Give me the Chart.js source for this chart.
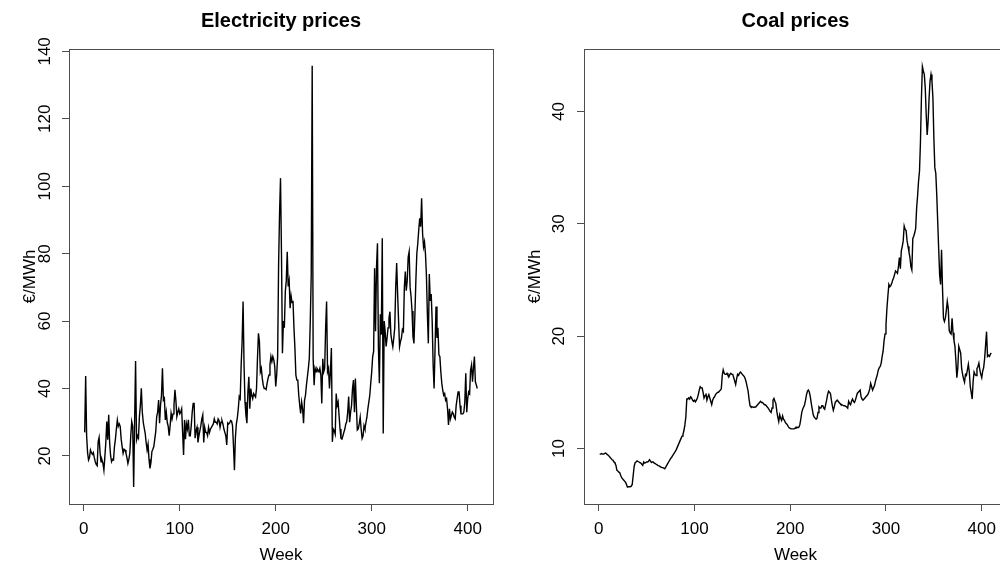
<!DOCTYPE html>
<html>
<head>
<meta charset="utf-8">
<script src="https://cdn.jsdelivr.net/npm/chart.js@4"></script>
<style>
  html, body { margin: 0; padding: 0; background: #fff; overflow: hidden; width: 1000px; height: 566px; }
  canvas { position: absolute; top: 0; }
  #elec { left: 0; }
  #coal { left: 500px; }
</style>
</head>
<body>
<canvas id="elec" width="500" height="566"></canvas>
<canvas id="coal" width="520" height="566"></canvas>
<script>
// Tick positions
const weekTicks = [0, 100, 200, 300, 400];
const elecTicks = [20, 40, 60, 80, 100, 120, 140];
const coalTicks = [10, 20, 30, 40];

// Weekly electricity prices, €/MWh (weeks 1..410)
const elecPrices = [
  27, 43.7, 26, 21, 18.8, 19.5, 21.8, 21, 20.5, 21,
  19.5, 18.3, 17.5, 17.1, 24.2, 25.5, 21, 18.3, 18.8, 17.8,
  15.8, 19.8, 24, 30.2, 24.8, 32.2, 23.8, 20, 18.3, 19,
  18.8, 22.8, 25, 28, 30.7, 28.8, 29.5, 28.8, 25, 22.8,
  20.8, 22, 21.8, 20.8, 19.5, 17.8, 19, 20.8, 26, 30.2,
  28.8, 10.8, 30, 48.2, 24.8, 26, 25.3, 31.7, 35, 40.1,
  33, 30, 28.3, 26.8, 24, 21.8, 23.5, 19, 16.3, 18,
  21.3, 22, 22.8, 25, 27.2, 31.7, 33, 36.6, 29.7, 35.1,
  38, 46, 36.6, 37.1, 30.7, 33, 30, 28.8, 26, 29,
  32.7, 31, 32.5, 35, 39.6, 36.5, 31.7, 33, 34, 32.5,
  33, 34, 27, 20.3, 30.7, 25, 29.5, 28, 30.7, 26,
  26, 29, 33, 35.6, 35.6, 25.3, 27.5, 28.5, 24, 26,
  27.5, 29, 31, 32.2, 24, 28.5, 27, 27, 26, 28.5,
  27, 28, 28.5, 29, 29.5, 31, 30, 30, 29.5, 31,
  30.5, 28.5, 30, 30.5, 29.5, 28, 27, 26, 23.3, 29.8,
  29.5, 29.8, 30.5, 30.3, 29, 23, 15.8, 25.5, 29.5, 31.3,
  34, 37.6, 37, 47, 54, 65.8, 47, 36, 32, 29.7,
  39, 43.5, 34, 40, 38, 37, 38.5, 38, 37.5, 40,
  49, 56.4, 54, 45, 46, 43, 41, 40, 40, 39.7,
  41.5, 43, 44, 47, 49.5, 48, 49.5, 48.5, 46.5, 40.6,
  44, 49.5, 76.7, 92, 102.4, 80, 50.5, 60, 58, 68.8,
  72, 80.6, 70.3, 72, 63.8, 67.5, 65.5, 66, 58, 52,
  44, 42.5, 42.5, 38, 35.1, 32.6, 36, 34, 29.7, 36.5,
  38, 41, 43.5, 46, 49, 60, 73.7, 135.7, 49, 41,
  46, 45, 46, 45.5, 45, 46, 44, 35.6, 48.8, 45,
  46, 58, 65.8, 45, 46, 40, 45, 52, 24.2, 28,
  27.5, 26.5, 38.5, 35, 36, 32, 28, 25.2, 25, 26,
  27, 28, 29.5, 30.2, 33, 37.6, 30, 33, 35, 40,
  42.5, 33, 43, 35, 27.7, 28, 29.5, 31.5, 28, 25.2,
  26, 29, 28, 30, 31.5, 34, 36, 38, 41.6, 45,
  49.5, 51, 75.7, 57, 76, 83.1, 52, 41.6, 62, 56,
  84.6, 26.7, 60, 57, 52.5, 55, 58, 61, 62.8, 56,
  54, 52.4, 55, 58, 70, 77.2, 68, 60, 52.4, 54,
  55, 57.5, 57, 70, 74.7, 69, 72, 79, 80.6, 70,
  67.3, 63, 55.4, 53.4, 62, 72, 80, 83.1, 87, 90.5,
  88, 96.4, 86, 82, 83.5, 80, 73.6, 62, 53.4, 74,
  66, 68, 60, 47, 40, 52, 64.3, 55, 58, 50,
  49.5, 45, 41.6, 39.5, 38, 38.5, 36.5, 37, 34, 29.2,
  34, 31, 32, 33, 32.5, 31.5, 31, 35, 37, 39,
  39, 35, 32.5, 32.5, 32.5, 33, 36, 44.5, 33, 37,
  39, 38.5, 45.5, 47, 42, 46, 49.5, 42, 41, 40
];

// Weekly coal prices, €/MWh (weeks 1..410)
const coalPrices = [
  9.5, 9.5, 9.55, 9.5, 9.5, 9.55, 9.6, 9.55, 9.45, 9.4,
  9.3, 9.2, 9.1, 9.0, 8.95, 8.8, 8.7, 8.5, 8.05, 8.0,
  7.9, 7.85, 7.6, 7.4, 7.3, 7.2, 7.1, 7.0, 6.8, 6.56,
  6.6, 6.6, 6.6, 6.65, 6.8, 7.6, 8.4, 8.73, 8.8, 8.9,
  8.9, 8.8, 8.75, 8.7, 8.6, 8.5, 8.8, 8.7, 8.75, 8.8,
  8.8, 8.85, 9.0, 8.9, 8.75, 8.8, 8.8, 8.7, 8.65, 8.6,
  8.55, 8.48, 8.45, 8.4, 8.35, 8.3, 8.3, 8.25, 8.2, 8.35,
  8.5, 8.65, 8.8, 8.95, 9.1, 9.2, 9.35, 9.47, 9.6, 9.75,
  9.9, 10.1, 10.3, 10.5, 10.7, 10.9, 11.1, 11.25, 11.6, 12.1,
  12.8, 14.4, 14.4, 14.5, 14.4, 14.6, 14.5, 14.3, 14.2, 14.3,
  14.15, 14.3, 14.5, 14.8, 15.2, 15.5, 15.4, 15.4, 15.0, 14.5,
  14.7, 14.9, 14.3, 14.6, 14.8, 14.5, 14.2, 13.9, 14.3, 14.5,
  14.6, 14.8, 14.9, 15.0, 15.0, 15.1, 15.2, 15.3, 16.5, 17.0,
  16.7, 16.6, 16.6, 16.7, 16.5, 16.4, 16.6, 16.7, 16.6, 16.6,
  16.3, 16.0, 15.7, 16.2, 16.6, 16.5, 16.7, 16.8, 16.7, 16.6,
  16.5, 16.4, 16.2, 15.9, 15.5, 15.1, 14.4, 13.8, 13.7, 13.7,
  13.7, 13.65, 13.7, 13.7, 13.8, 13.9, 14.0, 14.1, 14.2, 14.1,
  14.1, 14.0, 13.9, 13.9, 13.8, 13.7, 13.6, 13.45, 13.3, 13.2,
  13.6, 14.3, 14.45, 14.2, 14.0, 13.3, 12.8, 12.4, 13.0, 12.7,
  12.5, 12.9, 12.6, 12.5, 12.3, 12.2, 12.1, 11.95, 11.84, 11.8,
  11.75, 11.75, 11.75, 11.75, 11.8, 11.9, 11.9, 11.85, 11.9, 12.1,
  12.6, 13.2, 13.5, 13.7, 13.9, 14.3, 14.8, 15.1, 15.2, 15.0,
  14.6, 14.0, 13.5, 13.0, 12.8, 12.7, 12.6, 12.7, 13.2, 13.7,
  13.6, 13.6, 13.8, 13.8, 13.6, 13.5, 13.9, 14.3, 14.8, 15.1,
  15.0, 14.9, 14.3, 13.8, 13.4, 13.7, 14.1, 14.2, 14.3, 14.2,
  14.1, 14.0, 13.9, 13.9, 13.85, 13.8, 13.8, 13.75, 13.7, 13.6,
  14.2, 14.0, 13.9, 14.2, 14.4, 14.2, 14.1, 14.3, 14.6, 14.9,
  15.0, 15.1, 15.2, 14.6, 14.4, 14.3, 14.3, 14.5, 14.6, 14.7,
  14.8, 15.0, 15.3, 15.8, 15.5, 15.2, 15.4, 15.6, 16.0, 16.3,
  16.6, 17.0, 17.2, 17.3, 17.6, 18.2, 18.66, 19.6, 20.2, 21.0,
  22.5, 23.6, 24.6, 24.4, 24.5, 24.7, 25.0, 25.2, 25.5, 25.8,
  25.7, 25.6, 26.2, 27.0, 26.0, 27.6, 28.0, 28.5, 29.8, 29.5,
  29.4, 28.5, 28.0, 27.5, 27.0, 26.2, 25.9, 28.7, 28.9, 29.2,
  29.6, 31.4, 32.5, 33.8, 34.7, 37.3, 41.2, 44.0, 43.6, 43.3,
  42.1, 39.7, 37.9, 39.1, 41.2, 42.7, 43.3, 42.7, 41.2, 37.6,
  35.0, 34.5, 32.6, 30.2, 27.8, 25.5, 24.6, 27.7, 24.3, 21.6,
  21.3, 21.6, 22.3, 23.1, 22.5, 20.5, 20.3, 20.2, 21.6, 20.3,
  19.6, 19.1, 17.8, 16.3, 17.2, 19.1, 18.8, 18.5, 17.1, 16.6,
  16.2, 15.9, 16.6, 16.5, 17.0, 17.5, 16.8, 15.5, 15.0, 14.4,
  16.0, 16.8, 16.6, 16.5, 17.1, 17.3, 17.6, 17.0, 16.6, 16.3,
  16.9, 17.2, 18.0, 19.2, 20.4, 18.2, 18.3, 18.2, 18.4, 18.5
];

const weeks = elecPrices.map((_, i) => i + 1);

const FONT = '"Liberation Sans", Arial, Helvetica, sans-serif';
const FRAME_COLOR = '#4d4d4d';

// Full box around the plotting region
const framePlugin = {
  id: 'frame',
  afterDraw(chart) {
    const { ctx, chartArea: a } = chart;
    ctx.save();
    ctx.strokeStyle = FRAME_COLOR;
    ctx.lineWidth = 1;
    ctx.strokeRect(Math.round(a.left) + 0.5, Math.round(a.top) + 0.5,
                   Math.round(a.right - a.left), Math.round(a.bottom - a.top));
    ctx.restore();
  }
};

function priceChart(id, title, values, yRange, yTicks, box) {
  const canvas = document.getElementById(id);
  const points = weeks.map((w, i) => ({ x: w, y: values[i] }));
  return new Chart(canvas, {
    type: 'line',
    data: {
      datasets: [{
        data: points,
        borderColor: '#000',
        borderWidth: 1.4,
        pointRadius: 0,
        tension: 0,
        fill: false
      }]
    },
    plugins: [framePlugin],
    options: {
      responsive: false,
      animation: false,
      devicePixelRatio: 1,
      layout: { padding: { left: 0, right: canvas.width - box.right, top: 0, bottom: 0 } },
      plugins: {
        legend: { display: false },
        tooltip: { enabled: false },
        title: {
          display: true,
          text: title,
          fullSize: false,
          color: '#000',
          font: { family: FONT, size: 20, weight: 'bold' },
          padding: { top: 9, bottom: box.top - 9 - 24 }
        }
      },
      scales: {
        x: {
          type: 'linear',
          min: -15.36,
          max: 426.36,
          afterBuildTicks: s => { s.ticks = weekTicks.map(v => ({ value: v })); },
          afterFit: s => { s.height = 566 - box.bottom; },
          border: { display: false },
          grid: { display: true, drawOnChartArea: false, drawTicks: true, tickLength: 7, color: FRAME_COLOR },
          ticks: { color: '#000', padding: 8, maxRotation: 0, font: { family: FONT, size: 17 } },
          title: { display: true, text: 'Week', color: '#000', padding: { top: 0, bottom: 0 }, font: { family: FONT, size: 17 } }
        },
        y: {
          type: 'linear',
          min: yRange[0],
          max: yRange[1],
          afterBuildTicks: s => { s.ticks = yTicks.map(v => ({ value: v })); },
          afterFit: s => { s.width = box.left; },
          border: { display: false },
          grid: { display: true, drawOnChartArea: false, drawTicks: true, tickLength: 7, color: FRAME_COLOR },
          ticks: { color: '#000', padding: box.tickPad, minRotation: 90, maxRotation: 90, crossAlign: 'center', font: { family: FONT, size: 17 } },
          title: { display: true, text: '€/MWh', color: '#000', padding: { top: box.titlePad, bottom: 0 }, font: { family: FONT, size: 17 } }
        }
      }
    }
  });
}

priceChart('elec', 'Electricity prices', elecPrices, [5.76, 140.7], elecTicks,
  { left: 69, right: 493, top: 49, bottom: 504, tickPad: 3, titlePad: 20 });
priceChart('coal', 'Coal prices', coalPrices, [5.06, 45.56], coalTicks,
  { left: 84, right: 507, top: 49, bottom: 504, tickPad: 8, titlePad: 25 });
</script>
</body>
</html>
